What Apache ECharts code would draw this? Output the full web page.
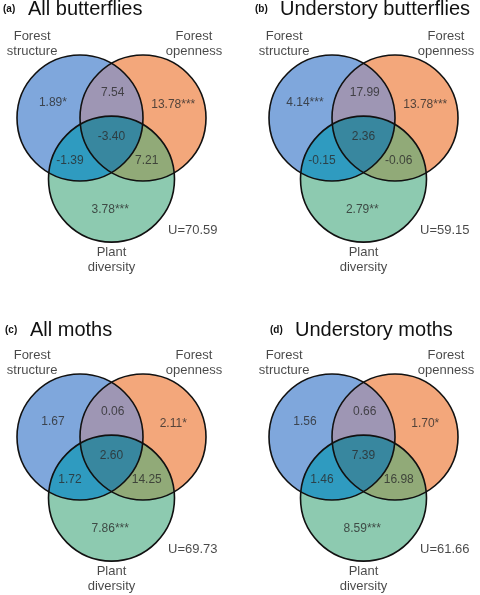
<!DOCTYPE html>
<html>
<head>
<meta charset="utf-8">
<script src="https://cdn.jsdelivr.net/npm/echarts@6/dist/echarts.min.js"></script>
<style>
  html, body { margin: 0; padding: 0; background: #fff; }
  #main { width: 480px; height: 595px; }
</style>
</head>
<body>
<div id="main"></div>
<script>
// panel titles
var panelTags = ['(a)', '(b)', '(c)', '(d)'];
var panelTitles = ['All butterflies', 'Understory butterflies', 'All moths', 'Understory moths'];

// the three predictor sets
var setNames = ['Forest\nstructure', 'Forest\nopenness', 'Plant\ndiversity'];

// region order: structure, openness, diversity, S+O, S+D, O+D, S+O+D
var regionKeys = ['S', 'O', 'D', 'SO', 'SD', 'OD', 'SOD'];

// explained deviance (%) per region
var allButterflies = [1.89, 13.78, 3.78, 7.54, -1.39, 7.21, -3.40];
var allButterfliesSig = ['*', '***', '***', '', '', '', ''];
var understoryButterflies = [4.14, 13.78, 2.79, 17.99, -0.15, -0.06, 2.36];
var understoryButterfliesSig = ['***', '***', '**', '', '', '', ''];
var allMoths = [1.67, 2.11, 7.86, 0.06, 1.72, 14.25, 2.60];
var allMothsSig = ['', '*', '***', '', '', '', ''];
var understoryMoths = [1.56, 1.70, 8.59, 0.66, 1.46, 16.98, 7.39];
var understoryMothsSig = ['', '*', '***', '', '', '', ''];

// unexplained
var unexplained = [70.59, 59.15, 69.73, 61.66];

var panelValues = [allButterflies, understoryButterflies, allMoths, understoryMoths];
var panelSig = [allButterfliesSig, understoryButterfliesSig, allMothsSig, understoryMothsSig];

/* ---------- layout (units = one circle radius) ---------- */
var R = 63;                                  // px per unit
var panelOrigin = [[111.5, 118], [363.5, 118], [111.5, 437], [363.5, 437]];
var titleLeft = [3, 255, 5, 270];
var titleMid = [9, 9, 330, 330];
var vennCenters = [[-0.5, 0], [0.5, 0], [0, -0.97]];
var fills = ['#7fa7dc', '#f3a77b', '#8dcab0'];
var pairFills = ['#9e96b4', '#2f9bc0', '#91aa78'];   // SO, SD, OD
var tripleFill = '#38879f';
var regionPos = [[-0.93, 0.25], [0.98, 0.21], [-0.02, -1.46], [0.02, 0.40], [-0.66, -0.67], [0.56, -0.67], [0, -0.30]];
var setPos = [[-1.26, 1.18], [1.31, 1.18], [0, -2.25]];
var uPos = [1.29, -1.78];

var FONT = '"Liberation Sans", Arial, Helvetica, sans-serif';

function inter(c1, c2, r) {
  var dx = c2[0] - c1[0], dy = c2[1] - c1[1];
  var d = Math.sqrt(dx * dx + dy * dy);
  var h = Math.sqrt(r * r - d * d / 4);
  var mx = (c1[0] + c2[0]) / 2, my = (c1[1] + c2[1]) / 2;
  var nx = -dy / d, ny = dx / d;
  return [[mx + h * nx, my + h * ny], [mx - h * nx, my - h * ny]];
}
function dist(a, b) { return Math.sqrt((a[0] - b[0]) * (a[0] - b[0]) + (a[1] - b[1]) * (a[1] - b[1])); }
function arc(c, r, p, q) {
  var a1 = Math.atan2(p[1] - c[1], p[0] - c[0]);
  var a2 = Math.atan2(q[1] - c[1], q[0] - c[0]);
  var da = a2 - a1;
  while (da > Math.PI) da -= 2 * Math.PI;
  while (da <= -Math.PI) da += 2 * Math.PI;
  var pts = [];
  for (var i = 0; i <= 40; i++) {
    var a = a1 + da * i / 40;
    pts.push([c[0] + r * Math.cos(a), c[1] + r * Math.sin(a)]);
  }
  return pts;
}
// intersection point of circles i,j lying inside circle k
function innerPt(c, r, i, j, k) {
  var pp = inter(c[i], c[j], r);
  return dist(pp[0], c[k]) < dist(pp[1], c[k]) ? pp[0] : pp[1];
}

function renderVenn(params, api) {
  var r = api.size([1, 0])[0];
  var c = vennCenters.map(function (p) { return api.coord(p); });
  var kids = [];
  // base circles
  for (var i = 0; i < 3; i++) {
    kids.push({ type: 'circle', shape: { cx: c[i][0], cy: c[i][1], r: r }, style: { fill: fills[i] } });
  }
  // pair lenses
  var pairs = [[0, 1], [0, 2], [1, 2]];
  pairs.forEach(function (pr, n) {
    var pp = inter(c[pr[0]], c[pr[1]], r);
    var pts = arc(c[pr[0]], r, pp[0], pp[1]).concat(arc(c[pr[1]], r, pp[1], pp[0]));
    kids.push({ type: 'polygon', shape: { points: pts }, style: { fill: pairFills[n] } });
  });
  // triple region
  var xSO = innerPt(c, r, 0, 1, 2), xSD = innerPt(c, r, 0, 2, 1), xOD = innerPt(c, r, 1, 2, 0);
  var tri = arc(c[0], r, xSO, xSD).concat(arc(c[2], r, xSD, xOD), arc(c[1], r, xOD, xSO));
  kids.push({ type: 'polygon', shape: { points: tri }, style: { fill: tripleFill } });
  // outlines
  for (var m = 0; m < 3; m++) {
    kids.push({ type: 'circle', shape: { cx: c[m][0], cy: c[m][1], r: r }, style: { fill: null, stroke: '#111', lineWidth: 1.6 } });
  }
  return { type: 'group', children: kids };
}

var grids = [], xAxes = [], yAxes = [], series = [], titles = [];
for (var p = 0; p < 4; p++) {
  grids.push({ left: panelOrigin[p][0] - 1.75 * R, top: panelOrigin[p][1] - 1.5 * R, width: 3.5 * R, height: 4 * R });
  xAxes.push({ gridIndex: p, type: 'value', min: -1.75, max: 1.75, show: false });
  yAxes.push({ gridIndex: p, type: 'value', min: -2.5, max: 1.5, show: false });

  titles.push({
    text: '{t|' + panelTags[p] + '}{m|' + panelTitles[p] + '}',
    left: titleLeft[p], top: titleMid[p] - 11, padding: 0,
    textStyle: {
      fontWeight: 'normal',
      rich: {
        t: { fontFamily: FONT, fontSize: 10, fontWeight: 'bold', color: '#111', width: 25 },
        m: { fontFamily: FONT, fontSize: 20, fontWeight: 'normal', color: '#111', lineHeight: 22 }
      }
    }
  });

  series.push({
    type: 'custom', xAxisIndex: p, yAxisIndex: p, silent: true, clip: false, z: 1,
    renderItem: renderVenn, data: [[0, 0]]
  });

  var vals = panelValues[p], sig = panelSig[p];
  series.push({
    type: 'scatter', xAxisIndex: p, yAxisIndex: p, silent: true, z: 5,
    symbolSize: 0, itemStyle: { color: 'transparent' },
    label: { show: true, position: 'inside', formatter: '{b}', fontFamily: FONT, fontSize: 12, color: '#2b2b2b' },
    data: regionKeys.map(function (k, j) {
      return { name: vals[j].toFixed(2) + sig[j], value: regionPos[j] };
    })
  });

  series.push({
    type: 'scatter', xAxisIndex: p, yAxisIndex: p, silent: true, z: 5,
    symbolSize: 0, itemStyle: { color: 'transparent' },
    label: { show: true, position: 'inside', formatter: '{b}', fontFamily: FONT, fontSize: 13, lineHeight: 15, color: '#1a1a1a' },
    data: setNames.map(function (s, j) { return { name: s, value: setPos[j] }; })
      .concat([{ name: 'U=' + unexplained[p].toFixed(2), value: uPos }])
  });
}

var myChart = echarts.init(document.getElementById('main'));
myChart.setOption({
  animation: false,
  backgroundColor: '#fff',
  title: titles,
  grid: grids,
  xAxis: xAxes,
  yAxis: yAxes,
  series: series
});
</script>
</body>
</html>
